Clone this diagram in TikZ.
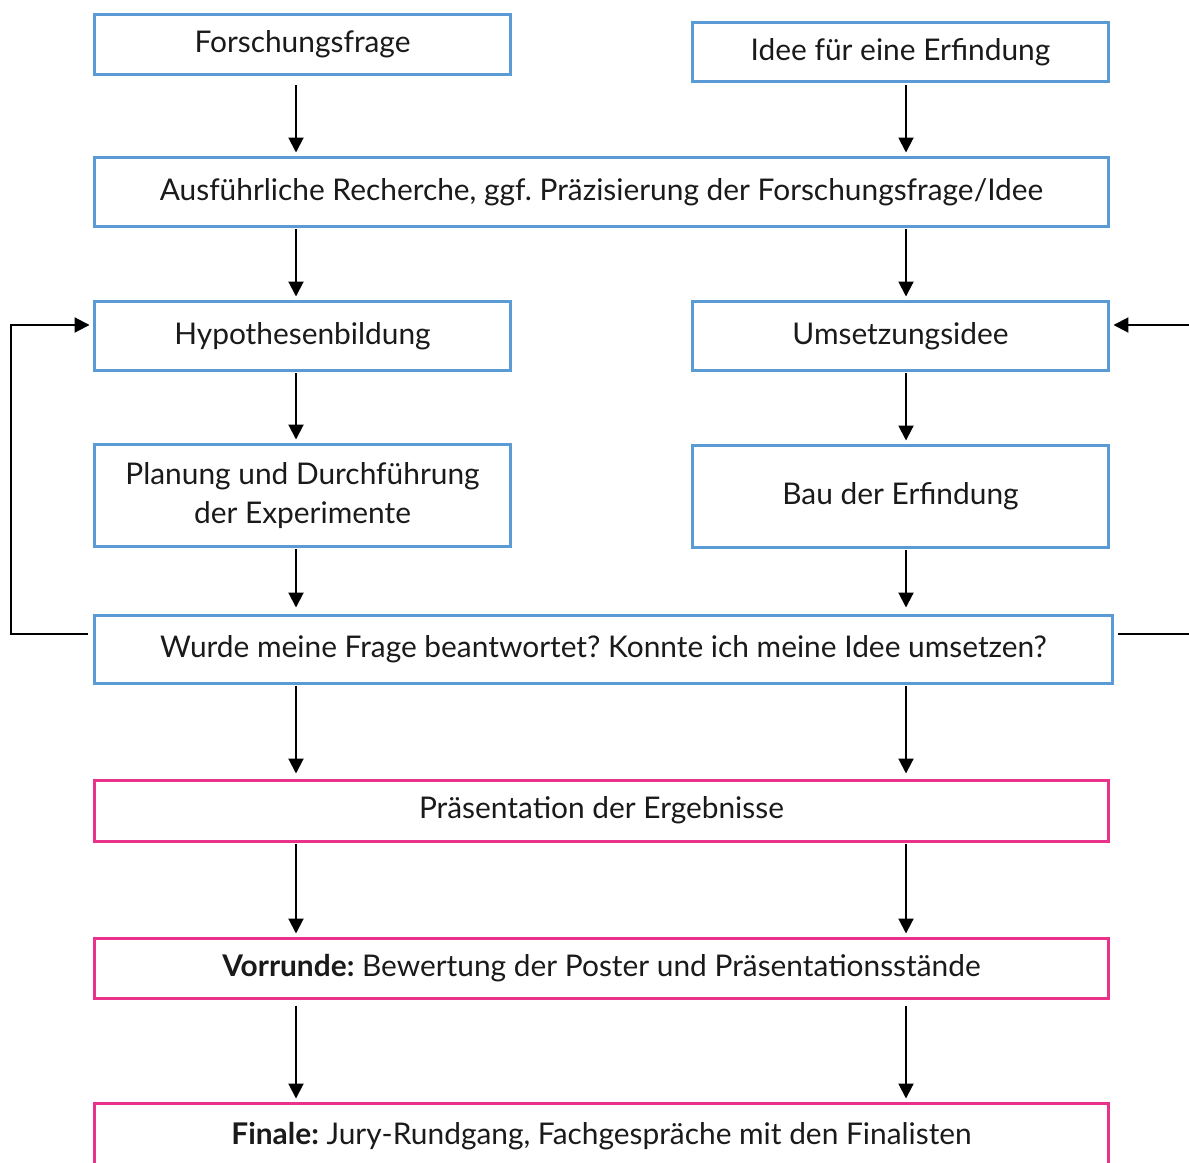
\documentclass[tikz,border=0pt]{standalone}
\usepackage{fontspec}
\setmainfont{Lato}
\usetikzlibrary{arrows.meta,calc,positioning}
\definecolor{boxblue}{HTML}{5B9BD5}
\definecolor{boxpink}{HTML}{E9338A}
\definecolor{ink}{HTML}{1A1A1A}
\frenchspacing
\tikzset{
chart/.style={x=0.02cm,y=-0.02cm,>={Triangle[length=0.3cm,width=0.3cm]},
    line width=0.04cm,font=\fontsize{17}{22}\selectfont,text=ink},
stage/.style={rectangle,draw=boxblue,line width=0.06cm,inner sep=0,
    align=center,minimum width=#1},
stage/.default={8.34cm},
result/.style={stage=20.3cm,draw=boxpink,minimum height=1.22cm},
flow/.style={->,shorten <=0.02cm,shorten >=0.06cm},
}

\begin{document}
\begin{tikzpicture}[chart]
    \useasboundingbox (0,0) rectangle (1189,1162);
    \clip (0,0) rectangle (1189,1162);

    \coordinate (lx) at (296,0);
    \coordinate (rx) at (906,0);

    \node[stage, minimum height=1.22cm] (frage) at (302.5,44.5) {Forschungsfrage};
    \node[stage, minimum height=1.2cm] (idee) at (900.5,52) {Idee für eine Erfindung};
    \node[stage=20.3cm, minimum height=1.4cm] (recherche) at (601.5,192)
        {Ausführliche Recherche, ggf. Präzisierung der Forschungsfrage/Idee};
    \node[stage, minimum height=1.4cm] (hypo) at (302.5,336) {Hypothesenbildung};
    \node[stage, minimum height=1.4cm] (umsetz) at (900.5,336) {Umsetzungsidee};
    \node[stage, minimum height=2.06cm] (planung) at (302.5,495.5)
        {Planung und Durchführung\\der Experimente};
    \node[stage, minimum height=2.06cm] (bau) at (900.5,496.5) {Bau der Erfindung};
    \node[stage=20.38cm, minimum height=1.36cm] (antwort) at (603.5,649)
        {Wurde meine Frage beantwortet? Konnte ich meine Idee umsetzen?};
    \node[result] (praes) at (601.5,810.5) {Präsentation der Ergebnisse};
    \node[result, minimum height=1.2cm] (vorrunde) at (601.5,968)
        {\textbf{Vorrunde:} Bewertung der Poster und Präsentationsstände};
    \node[result, minimum height=1.32cm] (finale) at (601.5,1136)
        {\textbf{Finale:} Jury-Rundgang, Fachgespräche mit den Finalisten};

    \coordinate (backL) at (11,634);
    \coordinate (backLt) at (11,325);
    \coordinate (backR) at (1200,634);
    \coordinate (backRt) at (1200,325);

    \path[flow]
        (frage.south -| lx) edge[shorten <=0.18cm] (recherche.north -| lx)
        (idee.south -| rx) edge[shorten <=0.04cm] (recherche.north -| rx)
        (recherche.south -| lx) edge (hypo.north -| lx)
        (recherche.south -| rx) edge (umsetz.north -| rx)
        (hypo.south -| lx) edge (planung.north -| lx)
        (umsetz.south -| rx) edge (bau.north -| rx)
        (planung.south -| lx) edge[shorten >=0.12cm] (antwort.north -| lx)
        (bau.south -| rx) edge[shorten >=0.12cm] (antwort.north -| rx)
        (antwort.south -| lx) edge[shorten >=0.1cm] (praes.north -| lx)
        (antwort.south -| rx) edge[shorten >=0.1cm] (praes.north -| rx)
        (praes.south -| lx) edge (vorrunde.north -| lx)
        (praes.south -| rx) edge (vorrunde.north -| rx)
        (vorrunde.south -| lx) edge[shorten <=0.12cm] (finale.north -| lx)
        (vorrunde.south -| rx) edge[shorten <=0.12cm] (finale.north -| rx)
    ;
    \draw[flow, shorten <=0.1cm] (antwort.west |- backL) -- (backL) -- (backLt) -- (hypo.west |- backLt);
    \draw[flow, shorten <=0.08cm] (antwort.east |- backR) -- (backR) -- (backRt) -- (umsetz.east |- backRt);
\end{tikzpicture}
\end{document}
